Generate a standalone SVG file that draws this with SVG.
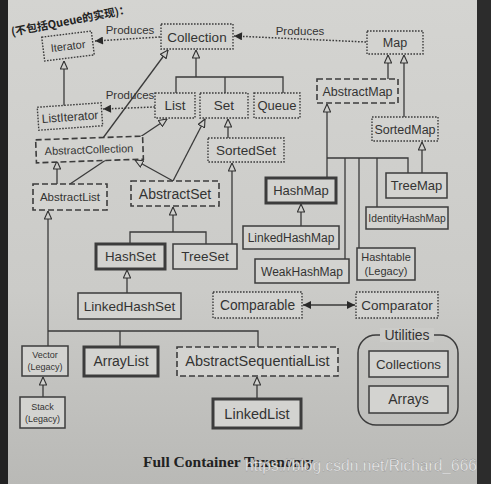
<svg xmlns="http://www.w3.org/2000/svg" width="491" height="484" viewBox="0 0 491 484">
<defs>
<linearGradient id="pg" x1="0" y1="0" x2="0" y2="1">
<stop offset="0" stop-color="#d4d4d1"/>
<stop offset="0.6" stop-color="#cbcbc8"/>
<stop offset="1" stop-color="#b9b9b6"/>
</linearGradient>
<marker id="tri" viewBox="0 0 10 10" refX="10" refY="5" markerWidth="9" markerHeight="8" markerUnits="userSpaceOnUse" orient="auto">
<path d="M0,0.5 L10,5 L0,9.5 z" fill="#d0d0cd" stroke="#333" stroke-width="1.4"/>
</marker>
<marker id="fill" viewBox="0 0 10 10" refX="10" refY="5" markerWidth="10" markerHeight="8" markerUnits="userSpaceOnUse" orient="auto-start-reverse">
<path d="M0,0 L10,5 L0,10 z" fill="#2a2a2a"/>
</marker>
<style>
.box{fill:#d3d3d0;stroke:#3c3c3c}
.dot{stroke-width:1.4;stroke-dasharray:1.6 1.4}
.dash{stroke-width:1.6;stroke-dasharray:6 3}
.sol{stroke-width:1.5}
.thick{stroke-width:3}
.t{font-family:"Liberation Sans",Arial,sans-serif;fill:#333;text-anchor:middle}
.ln{fill:none;stroke:#3a3a3a;stroke-width:1.3}
.dl{fill:none;stroke:#3a3a3a;stroke-width:1.5;stroke-dasharray:1.6 1.6}
</style>
</defs>
<rect x="0" y="0" width="491" height="484" fill="url(#pg)"/>
<rect x="0" y="0" width="8" height="484" fill="#222"/>
<rect x="477" y="0" width="14" height="484" fill="#2c2c2c"/>
<text x="12" y="36" transform="rotate(-11 12 36)" font-family="'Noto Sans CJK SC','Liberation Serif',serif" font-size="11" font-weight="bold" fill="#222">(不包括Queue的实现)：</text>

<g id="connectors">
<path class="ln" d="M64,106 L64,61" marker-end="url(#tri)"/>
<path class="ln" d="M103,138 L168,50" marker-end="url(#tri)"/>
<path class="ln" d="M70,184 L167,119" marker-end="url(#tri)"/>
<path class="ln" d="M57,184 L57,161" marker-end="url(#tri)"/>
<path class="ln" d="M173,181 L135,160" marker-end="url(#tri)"/>
<path class="ln" d="M173,181 L205,119" marker-end="url(#tri)"/>
<path class="ln" d="M176,93 V77 H283 V93 M225,77 V93"/>
<path class="ln" d="M196,77 V50" marker-end="url(#tri)"/>
<path class="ln" d="M228,138 V119" marker-end="url(#tri)"/>
<path class="ln" d="M232,244 V163" marker-end="url(#tri)"/>
<path class="ln" d="M130,244 V232 H206 V244"/>
<path class="ln" d="M173,232 V207" marker-end="url(#tri)"/>
<path class="ln" d="M127,293 V270" marker-end="url(#tri)"/>
<path class="ln" d="M48,346 V211" marker-end="url(#tri)"/>
<path class="ln" d="M48,331 H258 V347 M120,331 V347"/>
<path class="ln" d="M43,397 V377" marker-end="url(#tri)"/>
<path class="ln" d="M257,399 V377" marker-end="url(#tri)"/>
<path class="ln" d="M388,79 V55" marker-end="url(#tri)"/>
<path class="ln" d="M404,117 V55" marker-end="url(#tri)"/>
<path class="ln" d="M327,178 V104" marker-end="url(#tri)"/>
<path class="ln" d="M327,158 H408 V173 M345,158 V259 M359,158 V248 M377,158 V207"/>
<path class="ln" d="M422,173 V142" marker-end="url(#tri)"/>
<path class="ln" d="M301,226 V204" marker-end="url(#tri)"/>
<path class="dl" d="M160,37 L95,41" marker-end="url(#fill)"/>
<path class="dl" d="M366,42 L234,36" marker-end="url(#fill)"/>
<path class="dl" d="M155,107 L103,109" marker-end="url(#fill)"/>
<path class="ln" d="M303,305 H355" stroke-width="1.5" marker-start="url(#fill)" marker-end="url(#fill)"/>
<text class="t" x="130" y="34" font-size="11.5">Produces</text>
<text class="t" x="300" y="35" font-size="11.5">Produces</text>
<text class="t" x="130" y="99" font-size="11.5">Produces</text>
</g>

<g id="Iterator" transform="rotate(-7 68 46)"><rect class="box dot" x="43" y="34" width="50" height="24"/><text class="t" x="68" y="50" font-size="11">Iterator</text></g>
<g id="Collection"><rect class="box dot" x="161" y="24" width="72" height="25"/><text class="t" x="197" y="41.5" font-size="13.5">Collection</text></g>
<g id="Map"><rect class="box dot" x="367" y="31" width="56" height="23"/><text class="t" x="395" y="47" font-size="12.5">Map</text></g>
<g id="ListIterator" transform="rotate(-4 70 117)"><rect class="box dot" x="38" y="105" width="64" height="23"/><text class="t" x="70" y="121" font-size="12">ListIterator</text></g>
<g id="List"><rect class="box dot" x="155" y="93" width="40" height="25"/><text class="t" x="175" y="110" font-size="13.5">List</text></g>
<g id="Set"><rect class="box dot" x="200" y="93" width="48" height="25"/><text class="t" x="224" y="110" font-size="13.5">Set</text></g>
<g id="Queue"><rect class="box dot" x="254" y="93" width="46" height="25"/><text class="t" x="277" y="110" font-size="13">Queue</text></g>
<g id="AbstractMap"><rect class="box dash" x="317" y="79" width="81" height="24"/><text class="t" x="357.5" y="95.5" font-size="12.5">AbstractMap</text></g>
<g id="AbstractCollection" transform="rotate(-2 89 149)"><rect class="box dash" x="36" y="138" width="107" height="23"/><text class="t" x="89" y="153.5" font-size="11">AbstractCollection</text></g>
<g id="SortedSet"><rect class="box dot" x="208" y="138" width="76" height="24"/><text class="t" x="246" y="154.5" font-size="13.5">SortedSet</text></g>
<g id="SortedMap"><rect class="box dot" x="372" y="117" width="66" height="24"/><text class="t" x="405" y="133.5" font-size="12.5">SortedMap</text></g>
<g id="AbstractList"><rect class="box dash" x="33" y="184" width="74" height="26"/><text class="t" x="70" y="201" font-size="11.5">AbstractList</text></g>
<g id="AbstractSet"><rect class="box dash" x="131" y="181" width="88" height="25"/><text class="t" x="175" y="198.5" font-size="14">AbstractSet</text></g>
<g id="HashMap"><rect class="box thick" x="266" y="178" width="70" height="25"/><text class="t" x="301" y="195" font-size="13">HashMap</text></g>
<g id="TreeMap"><rect class="box sol" x="386" y="173" width="61" height="25"/><text class="t" x="416.5" y="190" font-size="13">TreeMap</text></g>
<g id="IdentityHashMap"><rect class="box sol" x="366" y="207" width="82" height="22"/><text class="t" x="407" y="221.5" font-size="10.3">IdentityHashMap</text></g>
<g id="LinkedHashMap"><rect class="box sol" x="243" y="226" width="96" height="23"/><text class="t" x="291" y="242" font-size="12">LinkedHashMap</text></g>
<g id="HashSet"><rect class="box thick" x="96" y="244" width="69" height="25"/><text class="t" x="130.5" y="261" font-size="13.3">HashSet</text></g>
<g id="TreeSet"><rect class="box sol" x="173" y="244" width="64" height="25"/><text class="t" x="205" y="261" font-size="13.5">TreeSet</text></g>
<g id="WeakHashMap"><rect class="box sol" x="255" y="259" width="94" height="24"/><text class="t" x="302" y="275.5" font-size="12">WeakHashMap</text></g>
<g id="Hashtable"><rect class="box sol" x="357" y="248" width="58" height="32"/><text class="t" x="386" y="261" font-size="11">Hashtable</text><text class="t" x="386" y="275" font-size="11">(Legacy)</text></g>
<g id="LinkedHashSet"><rect class="box sol" x="78" y="293" width="103" height="26"/><text class="t" x="129.5" y="310.5" font-size="13.5">LinkedHashSet</text></g>
<g id="Comparable"><rect class="box dot" x="213" y="292" width="89" height="26"/><text class="t" x="257.5" y="310" font-size="13.8">Comparable</text></g>
<g id="Comparator"><rect class="box dot" x="356" y="292" width="82" height="26"/><text class="t" x="397" y="310" font-size="13.5">Comparator</text></g>
<g id="Vector"><rect class="box sol" x="22" y="346" width="46" height="30" stroke-width="1.2"/><text class="t" x="45" y="358" font-size="9">Vector</text><text class="t" x="45" y="370" font-size="9">(Legacy)</text></g>
<g id="ArrayList"><rect class="box thick" x="84" y="347" width="74" height="29"/><text class="t" x="121" y="366" font-size="14">ArrayList</text></g>
<g id="AbstractSequentialList"><rect class="box dash" x="177" y="347" width="161" height="29"/><text class="t" x="257.5" y="366" font-size="14.5">AbstractSequentialList</text></g>
<g id="Utilities"><rect x="358" y="335" width="100" height="90" rx="18" fill="none" stroke="#3c3c3c" stroke-width="1.5"/><rect x="380" y="328" width="54" height="14" fill="#cbcbc8"/><text class="t" x="407" y="340" font-size="14">Utilities</text></g>
<g id="Collections"><rect class="box sol" x="369" y="351" width="79" height="26"/><text class="t" x="408.5" y="368.5" font-size="13.3">Collections</text></g>
<g id="Arrays"><rect class="box sol" x="369" y="386" width="79" height="27"/><text class="t" x="408.5" y="404" font-size="14">Arrays</text></g>
<g id="Stack"><rect class="box sol" x="20" y="397" width="45" height="31" stroke-width="1.2"/><text class="t" x="42.5" y="410" font-size="9">Stack</text><text class="t" x="42.5" y="422" font-size="9">(Legacy)</text></g>
<g id="LinkedList"><rect class="box thick" x="213" y="399" width="88" height="29"/><text class="t" x="257" y="418.5" font-size="14.5">LinkedList</text></g>

<text x="143" y="467" font-family="'Liberation Serif','Times New Roman',serif" font-size="15.5" font-weight="bold" fill="#222">Full Container Taxonomy</text>
<text x="245" y="471" textLength="232" lengthAdjust="spacingAndGlyphs" font-family="'Liberation Sans',Arial,sans-serif" font-size="16.5" fill="#f2f2f2" stroke="#888" stroke-width="0.3">https://blog.csdn.net/Richard_666</text>
</svg>
